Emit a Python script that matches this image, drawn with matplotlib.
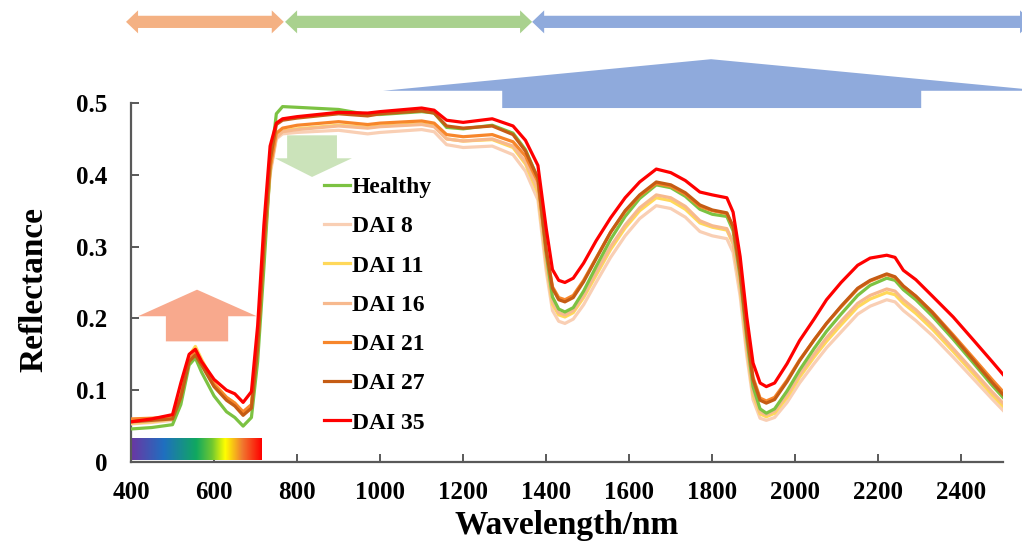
import numpy as np
import matplotlib
matplotlib.use("Agg")
import matplotlib.pyplot as plt
from matplotlib.patches import Polygon
from matplotlib.colors import LinearSegmentedColormap

# ---------------- data ----------------
wavelength = [400, 450, 500, 520, 540, 555, 570, 600, 630, 650,
              670, 690, 705, 720, 735, 750, 765, 800, 900, 970,
              1000, 1100, 1130, 1160, 1200, 1270, 1320, 1350,
              1380, 1400, 1415, 1430, 1445, 1465, 1490, 1520, 1555, 1590,
              1625, 1665, 1700, 1735, 1770, 1800, 1835, 1850, 1867, 1883,
              1898, 1915, 1930, 1950, 1980, 2010, 2045, 2075, 2110, 2150,
              2180, 2220, 2240, 2260, 2290, 2330, 2380, 2430, 2475, 2500]

healthy = [0.046, 0.048, 0.052, 0.080, 0.135, 0.145, 0.125, 0.092, 0.070, 0.062,
           0.050, 0.062, 0.140, 0.270, 0.410, 0.485, 0.495, 0.494, 0.491, 0.484,
           0.484, 0.488, 0.486, 0.466, 0.464, 0.469, 0.458, 0.435,
           0.395, 0.290, 0.230, 0.213, 0.209, 0.215, 0.238, 0.272, 0.310, 0.342,
           0.367, 0.386, 0.382, 0.370, 0.352, 0.345, 0.342, 0.322, 0.258, 0.172,
           0.105, 0.074, 0.068, 0.074, 0.099, 0.128, 0.158, 0.182, 0.206, 0.232,
           0.246, 0.256, 0.253, 0.240, 0.226, 0.203, 0.171, 0.137, 0.106, 0.090]

dai8 = [0.053, 0.055, 0.058, 0.090, 0.142, 0.152, 0.137, 0.106, 0.088, 0.080,
        0.068, 0.078, 0.155, 0.290, 0.400, 0.450, 0.457, 0.459, 0.462, 0.457,
        0.459, 0.463, 0.460, 0.442, 0.438, 0.440, 0.428, 0.405,
        0.365, 0.266, 0.211, 0.196, 0.193, 0.199, 0.219, 0.250, 0.285, 0.315,
        0.339, 0.357, 0.353, 0.341, 0.321, 0.315, 0.311, 0.292, 0.231, 0.148,
        0.087, 0.061, 0.058, 0.062, 0.083, 0.110, 0.137, 0.159, 0.181, 0.206,
        0.217, 0.226, 0.223, 0.211, 0.197, 0.176, 0.146, 0.115, 0.087, 0.072]

dai11 = [0.054, 0.056, 0.060, 0.094, 0.148, 0.161, 0.143, 0.110, 0.090, 0.082,
         0.068, 0.078, 0.158, 0.292, 0.405, 0.455, 0.461, 0.464, 0.469, 0.466,
         0.468, 0.471, 0.468, 0.450, 0.447, 0.449, 0.438, 0.415,
         0.375, 0.276, 0.220, 0.205, 0.202, 0.208, 0.229, 0.260, 0.296, 0.326,
         0.350, 0.368, 0.364, 0.352, 0.333, 0.327, 0.323, 0.304, 0.242, 0.158,
         0.094, 0.067, 0.063, 0.068, 0.090, 0.118, 0.146, 0.168, 0.191, 0.216,
         0.227, 0.236, 0.233, 0.221, 0.207, 0.185, 0.154, 0.122, 0.093, 0.078]

dai16 = [0.055, 0.057, 0.060, 0.092, 0.145, 0.156, 0.140, 0.108, 0.088, 0.080,
         0.068, 0.078, 0.158, 0.295, 0.405, 0.452, 0.460, 0.463, 0.468, 0.465,
         0.467, 0.470, 0.467, 0.450, 0.447, 0.450, 0.440, 0.418,
         0.380, 0.280, 0.224, 0.208, 0.205, 0.211, 0.232, 0.264, 0.300, 0.330,
         0.354, 0.372, 0.368, 0.356, 0.336, 0.329, 0.325, 0.306, 0.245, 0.162,
         0.098, 0.070, 0.066, 0.071, 0.094, 0.122, 0.150, 0.173, 0.196, 0.221,
         0.232, 0.241, 0.238, 0.226, 0.212, 0.190, 0.158, 0.126, 0.097, 0.082]

dai21 = [0.060, 0.061, 0.063, 0.092, 0.142, 0.152, 0.138, 0.108, 0.090, 0.082,
         0.070, 0.080, 0.160, 0.295, 0.410, 0.458, 0.465, 0.469, 0.474, 0.470,
         0.472, 0.475, 0.472, 0.456, 0.453, 0.456, 0.446, 0.426,
         0.390, 0.295, 0.244, 0.229, 0.226, 0.232, 0.253, 0.284, 0.320, 0.349,
         0.371, 0.388, 0.384, 0.373, 0.356, 0.350, 0.346, 0.327, 0.265, 0.182,
         0.118, 0.089, 0.085, 0.090, 0.114, 0.142, 0.170, 0.193, 0.216, 0.241,
         0.252, 0.261, 0.257, 0.245, 0.231, 0.209, 0.177, 0.144, 0.114, 0.098]

dai27 = [0.056, 0.058, 0.060, 0.090, 0.140, 0.149, 0.135, 0.105, 0.086, 0.078,
         0.065, 0.075, 0.160, 0.300, 0.420, 0.470, 0.476, 0.479, 0.485, 0.482,
         0.485, 0.489, 0.486, 0.468, 0.465, 0.468, 0.456, 0.433,
         0.395, 0.295, 0.242, 0.226, 0.223, 0.229, 0.251, 0.283, 0.320, 0.350,
         0.372, 0.390, 0.386, 0.375, 0.358, 0.351, 0.347, 0.328, 0.265, 0.180,
         0.115, 0.086, 0.082, 0.087, 0.112, 0.141, 0.170, 0.193, 0.217, 0.242,
         0.253, 0.262, 0.258, 0.245, 0.231, 0.208, 0.175, 0.141, 0.110, 0.094]

dai35 = [0.056, 0.060, 0.066, 0.110, 0.150, 0.157, 0.140, 0.115, 0.100, 0.095,
         0.083, 0.098, 0.190, 0.330, 0.440, 0.472, 0.478, 0.481, 0.487, 0.486,
         0.488, 0.493, 0.490, 0.476, 0.473, 0.478, 0.468, 0.448,
         0.413, 0.325, 0.268, 0.253, 0.250, 0.256, 0.277, 0.308, 0.340, 0.368,
         0.390, 0.408, 0.403, 0.392, 0.376, 0.372, 0.368, 0.348, 0.286, 0.202,
         0.138, 0.110, 0.105, 0.110, 0.137, 0.169, 0.199, 0.226, 0.250, 0.274,
         0.284, 0.288, 0.285, 0.267, 0.254, 0.231, 0.202, 0.169, 0.139, 0.122]

labels = ["Healthy", "DAI 8", "DAI 11", "DAI 16", "DAI 21", "DAI 27", "DAI 35"]
series = [healthy, dai8, dai11, dai16, dai21, dai27, dai35]
colors = ["#7cc242", "#f9cfb4", "#ffd85a", "#f7b98e", "#f7862b", "#c55c14", "#ff0000"]
draw_order = [1, 2, 3, 0, 4, 5, 6]

x_ticks = [400, 600, 800, 1000, 1200, 1400, 1600, 1800, 2000, 2200, 2400]
y_ticks = [0, 0.1, 0.2, 0.3, 0.4, 0.5]
y_tick_labels = ["0", "0.1", "0.2", "0.3", "0.4", "0.5"]

# spectral regions marked by the double arrows above the plot
regions = [(388, 768), (771, 1366), (1366, 2570)]
region_colors = ["#f4b183", "#a9d18e", "#8faadc"]

# ---------------- figure ----------------
W, H = 1022, 541
fig = plt.figure(figsize=(W / 100, H / 100), dpi=100)
ax = fig.add_axes([131 / W, 79 / H, 872 / W, 359 / H])

serif = ["Liberation Serif", "DejaVu Serif"]

lines = {}
for i in draw_order:
    ln, = ax.plot(wavelength, series[i], color=colors[i], lw=2.3,
                  solid_joinstyle="round", label=labels[i], zorder=3)
    lines[i] = ln

ax.set_xlim(400, 2500)
ax.set_ylim(0, 0.5)
ax.set_xticks(x_ticks)
ax.set_yticks(y_ticks)
ax.set_yticklabels(y_tick_labels)

for s in ["top", "right"]:
    ax.spines[s].set_visible(False)
for s in ["left", "bottom"]:
    ax.spines[s].set_color("#595959")
    ax.spines[s].set_linewidth(1.6)

ax.tick_params(axis="both", direction="in", length=6, width=1.4, color="#595959")
ax.tick_params(axis="x", pad=14)
ax.tick_params(axis="y", pad=17)
for lab in ax.get_xticklabels() + ax.get_yticklabels():
    lab.set_fontfamily(serif)
    lab.set_fontweight("bold")
    lab.set_fontsize(18)

ax.set_xlabel("Wavelength/nm", fontfamily=serif, fontweight="bold", fontsize=24,
              labelpad=4)
ax.set_ylabel("Reflectance", fontfamily=serif, fontweight="bold", fontsize=24)
ax.yaxis.set_label_coords(-0.094, 0.48)

# visible-spectrum colour bar
rainbow = LinearSegmentedColormap.from_list(
    "vis", [(0.0, "#6b37a3"), (0.25, "#1f6fc0"), (0.5, "#10a860"),
            (0.62, "#70c830"), (0.72, "#ffff00"), (0.85, "#f07a30"),
            (1.0, "#ff0000")])
grad = np.linspace(0, 1, 256).reshape(1, -1)
ax.imshow(grad, cmap=rainbow, aspect="auto", extent=[400, 715, 0.003, 0.033],
          zorder=2)


# arrow shapes (drawn in data units, allowed to extend outside the axes)
def shape(pts, color, alpha=1.0, z=4):
    p = Polygon(pts, closed=True, facecolor=color, edgecolor="none",
                alpha=alpha, clip_on=False, zorder=z)
    ax.add_patch(p)


# visible reflectance increases
shape([(417, 0.203), (559, 0.240), (703, 0.203), (634, 0.203), (634, 0.168),
       (484, 0.168), (484, 0.203)], "#f8a98d")
# NIR plateau decreases
shape([(776, 0.455), (896, 0.455), (896, 0.423), (932, 0.423), (836, 0.397),
       (747, 0.423), (776, 0.423)], "#b5d89d", alpha=0.7)
# SWIR reflectance increases
shape([(1007, 0.517), (1797, 0.561), (2597, 0.517), (2303, 0.517),
       (2303, 0.493), (1294, 0.493), (1294, 0.517)], "#8faadc")

# double-headed region arrows along the top
yc, half_shaft, half_head, head_len = 0.613, 0.0085, 0.016, 29
for (x0, x1), c in zip(regions, region_colors):
    pts = [(x0, yc), (x0 + head_len, yc + half_head), (x0 + head_len, yc + half_shaft),
           (x1 - head_len, yc + half_shaft), (x1 - head_len, yc + half_head),
           (x1, yc), (x1 - head_len, yc - half_head), (x1 - head_len, yc - half_shaft),
           (x0 + head_len, yc - half_shaft), (x0 + head_len, yc - half_head)]
    shape(pts, c)

# legend
handles = [lines[i] for i in range(len(labels))]
ax.legend(handles, labels, loc="upper left",
          bbox_to_anchor=(319 / W, 1 - 172 / H), bbox_transform=fig.transFigure,
          frameon=False, handlelength=1.1, handletextpad=0.1,
          labelspacing=0.75, borderpad=0.2, borderaxespad=0,
          prop={"family": serif, "weight": "bold", "size": 17})

fig.savefig("out.png", dpi=100)
